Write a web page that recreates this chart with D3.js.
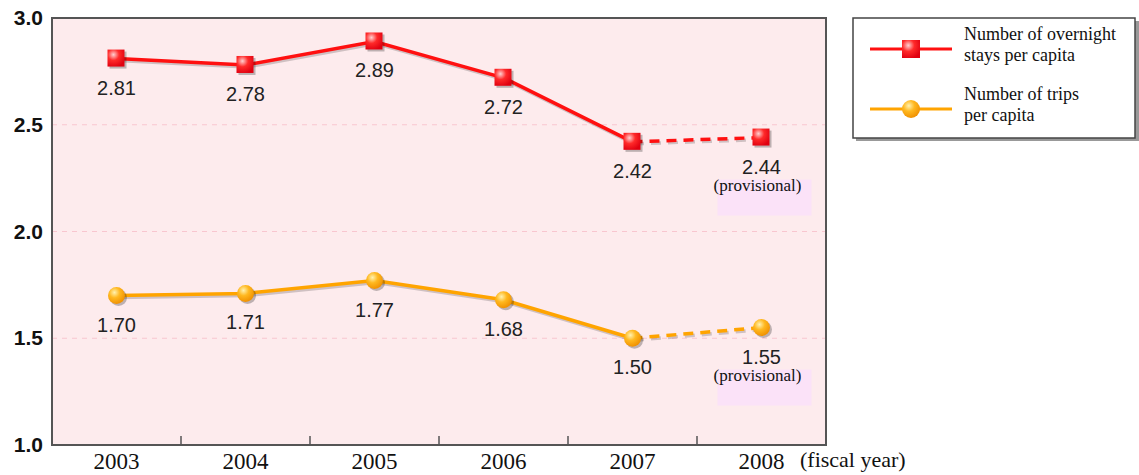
<!DOCTYPE html>
<html>
<head>
<meta charset="utf-8">
<script src="https://cdn.jsdelivr.net/npm/d3@7"></script>
<style>
  body { margin: 0; background: #fff; }
  svg { display: block; }
</style>
</head>
<body>
<div id="chart"></div>
<script>
const years = ['2003', '2004', '2005', '2006', '2007', '2008'];
const staysPerCapita = [2.81, 2.78, 2.89, 2.72, 2.42, 2.44];
const tripsPerCapita = [1.70, 1.71, 1.77, 1.68, 1.50, 1.55];
const yTicks = [1.0, 1.5, 2.0, 2.5, 3.0];
const provisionalYear = '2008';
const legendNames = [['Number of overnight', 'stays per capita'], ['Number of trips', 'per capita']];

const W = 1139, H = 475;
const plot = {left: 52, right: 826, top: 18, bottom: 445};

const svg = d3.select('#chart').append('svg').attr('width', W).attr('height', H);
const defs = svg.append('defs');

const sq = defs.append('radialGradient').attr('id', 'sqGrad').attr('cx', '35%').attr('cy', '30%').attr('r', '75%');
sq.append('stop').attr('offset', '0%').attr('stop-color', '#ffd0d0');
sq.append('stop').attr('offset', '45%').attr('stop-color', '#ff2a2a');
sq.append('stop').attr('offset', '100%').attr('stop-color', '#e00010');
const ci = defs.append('radialGradient').attr('id', 'ciGrad').attr('cx', '38%').attr('cy', '32%').attr('r', '70%');
ci.append('stop').attr('offset', '0%').attr('stop-color', '#fff2b0');
ci.append('stop').attr('offset', '45%').attr('stop-color', '#ffb820');
ci.append('stop').attr('offset', '100%').attr('stop-color', '#f09000');

const x = d3.scaleBand().domain(years).range([plot.left, plot.right]);
const y = d3.scaleLinear().domain([1, 3]).range([plot.bottom, plot.top]);
const cx = d => x(d) + x.bandwidth() / 2;

// plot background
svg.append('rect').attr('x', plot.left).attr('y', plot.top)
  .attr('width', plot.right - plot.left).attr('height', plot.bottom - plot.top)
  .attr('fill', '#fdebed');

// dashed grid
svg.append('g').selectAll('line').data(yTicks.filter(t => t > 1 && t < 3)).enter().append('line')
  .attr('x1', plot.left).attr('x2', plot.right)
  .attr('y1', d => y(d)).attr('y2', d => y(d))
  .attr('stroke', '#f8c6cf').attr('stroke-width', 1).attr('stroke-dasharray', '5,5');

// provisional pale boxes
const provIdx = years.indexOf(provisionalYear);
[staysPerCapita, tripsPerCapita].forEach(s => {
  svg.append('rect')
    .attr('x', cx(provisionalYear) - 44).attr('y', y(s[provIdx]) + 42)
    .attr('width', 94).attr('height', 36)
    .attr('fill', '#fbe2f8');
});

// frame
svg.append('rect').attr('x', plot.left).attr('y', plot.top)
  .attr('width', plot.right - plot.left).attr('height', plot.bottom - plot.top)
  .attr('fill', 'none').attr('stroke', '#555').attr('stroke-width', 2);

// x axis ticks (inward, at band boundaries)
svg.append('g').selectAll('line').data(years.slice(1)).enter().append('line')
  .attr('x1', d => x(d)).attr('x2', d => x(d))
  .attr('y1', plot.bottom).attr('y2', plot.bottom - 9)
  .attr('stroke', '#555').attr('stroke-width', 1.5);

svg.append('g').selectAll('text').data(years).enter().append('text')
  .attr('x', d => cx(d)).attr('y', 469)
  .attr('text-anchor', 'middle')
  .attr('font-family', 'Liberation Serif, serif').attr('font-size', 23).attr('fill', '#111')
  .text(d => d);
svg.append('text').attr('x', 800).attr('y', 467)
  .attr('font-family', 'Liberation Serif, serif').attr('font-size', 22).attr('fill', '#111')
  .text('(fiscal year)');

// y axis labels
svg.append('g').selectAll('text').data(yTicks).enter().append('text')
  .attr('x', 43).attr('y', d => y(d) + 7)
  .attr('text-anchor', 'end')
  .attr('font-family', 'Liberation Sans, Arial, sans-serif').attr('font-weight', 'bold')
  .attr('font-size', 21).attr('fill', '#111')
  .text(d => d.toFixed(1));

function drawSeries(values, color, marker) {
  const pts = years.map((yr, i) => ({yr, v: values[i]}));
  const solid = pts.filter(p => p.yr !== provisionalYear);
  const dashed = pts.slice(provIdx - 1, provIdx + 1);
  const line = d3.line().x(d => cx(d.yr)).y(d => y(d.v));
  const g = svg.append('g');
  // shadow
  g.append('path').datum(solid).attr('d', line).attr('fill', 'none')
    .attr('stroke', 'rgba(0,0,0,0.18)').attr('stroke-width', 3.5).attr('transform', 'translate(1.5,2)');
  g.append('path').datum(solid).attr('d', line).attr('fill', 'none')
    .attr('stroke', color).attr('stroke-width', 3.5);
  g.append('path').datum(dashed).attr('d', line).attr('fill', 'none')
    .attr('stroke', 'rgba(0,0,0,0.18)').attr('stroke-width', 3.5).attr('stroke-dasharray', '10,7')
    .attr('transform', 'translate(1.5,2)');
  g.append('path').datum(dashed).attr('d', line).attr('fill', 'none')
    .attr('stroke', color).attr('stroke-width', 3.5).attr('stroke-dasharray', '10,7');

  const m = g.selectAll('.m').data(pts).enter().append('g')
    .attr('transform', d => `translate(${cx(d.yr)},${y(d.v)})`);
  if (marker === 'square') {
    m.append('rect').attr('x', -7).attr('y', -7).attr('width', 17).attr('height', 17).attr('fill', 'rgba(0,0,0,0.25)');
    m.append('rect').attr('x', -9).attr('y', -9).attr('width', 17).attr('height', 17).attr('fill', 'url(#sqGrad)');
  } else {
    m.append('circle').attr('cx', 2).attr('cy', 2).attr('r', 8.5).attr('fill', 'rgba(0,0,0,0.25)');
    m.append('circle').attr('r', 8.5).attr('fill', 'url(#ciGrad)');
  }

  g.selectAll('.lbl').data(pts).enter().append('text')
    .attr('x', d => cx(d.yr)).attr('y', d => y(d.v) + 36)
    .attr('text-anchor', 'middle')
    .attr('font-family', 'Liberation Sans, Arial, sans-serif').attr('font-size', 20).attr('fill', '#222')
    .text(d => d.v.toFixed(2));
  g.append('text')
    .attr('x', cx(provisionalYear) - 4).attr('y', y(values[provIdx]) + 53)
    .attr('text-anchor', 'middle')
    .attr('font-family', 'Liberation Serif, serif').attr('font-size', 17).attr('fill', '#111')
    .text('(provisional)');
}

drawSeries(staysPerCapita, '#ff1010', 'square');
drawSeries(tripsPerCapita, '#ffa400', 'circle');

// legend
const lg = svg.append('g');
lg.append('rect').attr('x', 856).attr('y', 21).attr('width', 283).attr('height', 120).attr('fill', '#999');
lg.append('rect').attr('x', 853).attr('y', 18).attr('width', 282).attr('height', 120)
  .attr('fill', '#fff').attr('stroke', '#444').attr('stroke-width', 1.5);
const legendItems = [
  {color: '#ff1010', marker: 'square', ly: 49, names: legendNames[0]},
  {color: '#ffa400', marker: 'circle', ly: 109, names: legendNames[1]}
];
legendItems.forEach(it => {
  lg.append('line').attr('x1', 870).attr('x2', 952).attr('y1', it.ly).attr('y2', it.ly)
    .attr('stroke', it.color).attr('stroke-width', 3);
  if (it.marker === 'square') {
    lg.append('rect').attr('x', 902).attr('y', it.ly - 9).attr('width', 18).attr('height', 18).attr('fill', 'url(#sqGrad)');
  } else {
    lg.append('circle').attr('cx', 911).attr('cy', it.ly).attr('r', 9).attr('fill', 'url(#ciGrad)');
  }
  it.names.forEach((t, j) => {
    lg.append('text').attr('x', 964).attr('y', it.ly - 9 + j * 21)
      .attr('font-family', 'Liberation Serif, serif').attr('font-size', 18).attr('fill', '#111')
      .text(t);
  });
});
</script>
</body>
</html>
